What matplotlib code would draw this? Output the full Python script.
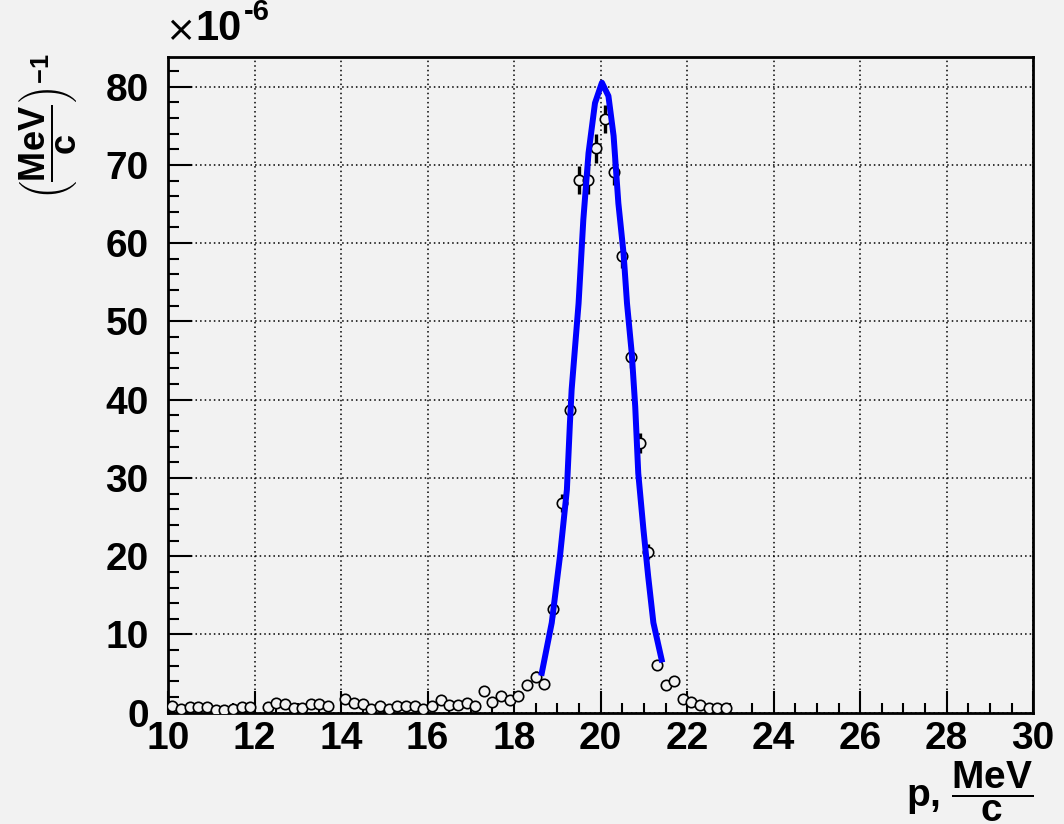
import matplotlib
matplotlib.use("Agg")
from matplotlib import pyplot as plt
from matplotlib.ticker import MultipleLocator

# histogram points (p in MeV/c, density in units of 1e-6)
p = [10.1, 10.3, 10.5, 10.7, 10.9, 11.1, 11.3, 11.5, 11.7, 11.9,
     12.3, 12.5, 12.7, 12.9, 13.1, 13.3, 13.5, 13.7, 14.1, 14.3,
     14.5, 14.7, 14.9, 15.1, 15.3, 15.5, 15.7, 15.9, 16.1, 16.3,
     16.5, 16.7, 16.9, 17.1, 17.3, 17.5, 17.7, 17.9, 18.1, 18.3,
     18.5, 18.7, 18.9, 19.1, 19.3, 19.5, 19.7, 19.9, 20.1, 20.3,
     20.5, 20.7, 20.9, 21.1, 21.3, 21.5, 21.7, 21.9, 22.1, 22.3,
     22.5, 22.7, 22.9]
dens = [0.9, 0.5, 0.7, 0.7, 0.7, 0.4, 0.3, 0.5, 0.7, 0.7,
        0.7, 1.3, 1.1, 0.6, 0.6, 1.1, 1.1, 0.8, 1.8, 1.3,
        1.1, 0.5, 0.8, 0.5, 0.9, 0.9, 0.9, 0.5, 0.8, 1.6,
        1.0, 1.0, 1.2, 0.9, 2.8, 1.4, 2.2, 1.6, 2.2, 3.6,
        4.6, 3.7, 13.2, 26.8, 38.7, 68.1, 68.1, 72.1, 75.9, 69.1,
        58.4, 45.4, 34.5, 20.6, 6.1, 3.6, 4.0, 1.7, 1.4, 1.0,
        0.6, 0.6, 0.6]
err = [0.4, 0.3, 0.3, 0.3, 0.3, 0.3, 0.2, 0.3, 0.3, 0.3,
       0.3, 0.4, 0.4, 0.3, 0.3, 0.4, 0.4, 0.3, 0.5, 0.4,
       0.4, 0.3, 0.3, 0.3, 0.3, 0.3, 0.3, 0.3, 0.3, 0.5,
       0.4, 0.4, 0.4, 0.3, 0.6, 0.4, 0.5, 0.5, 0.5, 0.6,
       0.7, 0.6, 1.0, 1.2, 1.4, 1.8, 1.8, 1.8, 1.8, 1.7,
       1.6, 1.4, 1.3, 1.0, 0.6, 0.6, 0.6, 0.4, 0.4, 0.3,
       0.3, 0.3, 0.3]

# gaussian fit curve
fit_p = [18.64, 18.87, 19.06, 19.22, 19.29, 19.33, 19.49, 19.60, 19.72, 19.87,
         20.03, 20.18, 20.30, 20.41, 20.53, 20.61, 20.72, 20.80, 20.87, 20.99,
         21.10, 21.22, 21.41]
fit_d = [5.1, 11.5, 20.0, 28.5, 37.0, 41.3, 52.3, 63.0, 71.5, 77.9,
         80.5, 78.8, 73.7, 65.1, 58.7, 52.3, 45.9, 39.1, 30.6, 23.4,
         17.4, 11.5, 6.8]

bg = "#f2f2f2"
plt.rcParams["font.family"] = ["Liberation Sans", "DejaVu Sans"]
plt.rcParams["font.weight"] = "bold"
plt.rcParams["mathtext.fontset"] = "custom"
plt.rcParams["mathtext.rm"] = "Liberation Sans:bold"
plt.rcParams["mathtext.bf"] = "Liberation Sans:bold"
plt.rcParams["mathtext.it"] = "Liberation Sans:bold"

fig = plt.figure(figsize=(10.64, 8.24), dpi=100, facecolor=bg)
ax = fig.add_axes([0.158, 0.135, 0.813, 0.796], facecolor=bg)

ax.errorbar(p, dens, yerr=err, fmt="none", ecolor="black", elinewidth=2.4,
            capsize=0, zorder=2)
ax.plot(p, dens, "o", markersize=7.5, markerfacecolor=bg,
        markeredgecolor="black", markeredgewidth=1.2, zorder=3)
ax.plot(fit_p, fit_d, color="#0000ff", linewidth=4.3, zorder=4)

ax.set_xlim(10, 30)
ax.set_ylim(0, 83.8)
ax.xaxis.set_major_locator(MultipleLocator(2))
ax.xaxis.set_minor_locator(MultipleLocator(0.5))
ax.yaxis.set_major_locator(MultipleLocator(10))
ax.yaxis.set_minor_locator(MultipleLocator(2))
ax.grid(True, which="major", color="black", linestyle=(0, (1, 2)), linewidth=1.1)

ax.tick_params(axis="both", which="both", direction="in", top=False, right=False,
               colors="black", labelsize=28, width=1.5)
ax.tick_params(axis="x", which="major", length=16, pad=6)
ax.tick_params(axis="x", which="minor", length=7)
ax.tick_params(axis="y", which="major", length=17, pad=14)
ax.tick_params(axis="y", which="minor", length=8)
for s in ax.spines.values():
    s.set_linewidth(2)
    s.set_color("black")

# offset label drawn by hand since values are stored in 1e-6 units
fig.text(0.155, 0.942, "\u00d7", fontsize=26, fontweight="normal",
         family="DejaVu Sans", ha="left", va="bottom")
fig.text(0.184, 0.94, "10", fontsize=30, ha="left", va="bottom")
fig.text(0.229, 0.968, "-6", fontsize=21, ha="left", va="bottom")

fig.text(0.971, 0.0, r"p, $\dfrac{\mathbf{MeV}}{\mathbf{c}}$", fontsize=28,
         ha="right", va="bottom")
fig.text(0.045, 0.935, r"$\left(\dfrac{\mathbf{MeV}}{\mathbf{c}}\right)^{\mathbf{-1}}$",
         fontsize=26, rotation=90, ha="center", va="top")

fig.savefig("out.png", dpi=100, facecolor=bg)
